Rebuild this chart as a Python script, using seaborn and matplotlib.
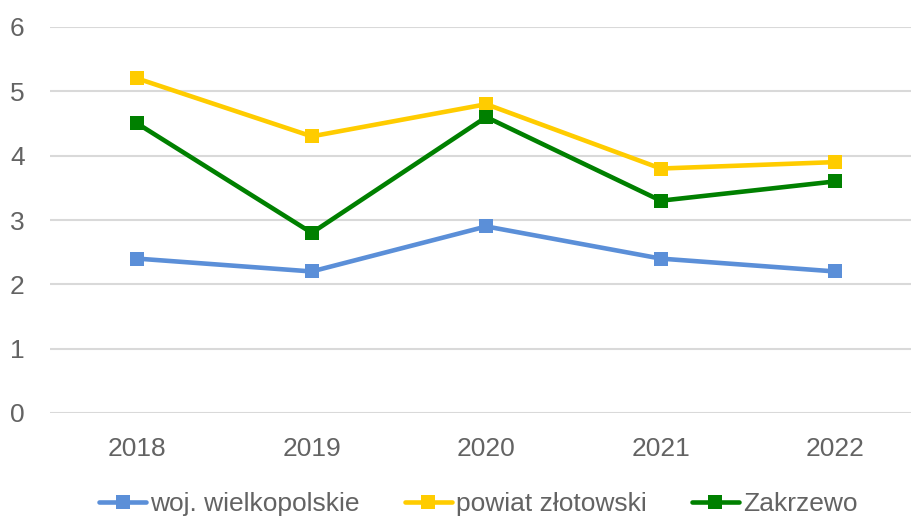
import pandas as pd
import numpy as np
import seaborn as sns
import matplotlib.pyplot as plt

years = ["2018", "2019", "2020", "2021", "2022"]
series = ["woj. wielkopolskie", "powiat złotowski", "Zakrzewo"]
woj = [2.4, 2.2, 2.9, 2.4, 2.2]
powiat = [5.2, 4.3, 4.8, 3.8, 3.9]
zakrzewo = [4.5, 2.8, 4.6, 3.3, 3.6]
colors = ["#5B8FD8", "#FFCC00", "#008000"]

d = pd.DataFrame({
    "rok": years * 3,
    "wartosc": woj + powiat + zakrzewo,
    "seria": [s for s in series for _ in years],
})

sns.set_style("white")
plt.rcParams['font.family'] = ['Liberation Sans', 'DejaVu Sans']
txt = "#636363"

fig = plt.figure(figsize=(9.11, 5.17), dpi=100)
ax = fig.add_axes([50 / 911, 104 / 517, 1 - 50 / 911, 386 / 517])

sns.lineplot(data=d, x="rok", y="wartosc", hue="seria", style="seria",
             palette=colors, markers=["s", "s", "s"], dashes=False,
             linewidth=3.3, markersize=10, markeredgewidth=0, ax=ax, legend=False)

ax.set_xlim(-0.5, 4.434)
ax.set_ylim(0, 6)
ax.set_yticks(range(7))
ax.grid(axis="y", color="#d9d9d9", linewidth=1.5)
ax.set_axisbelow(True)
sns.despine(ax=ax, left=True, bottom=True)
ax.tick_params(length=0, labelsize=19, colors=txt)
ax.tick_params(axis="x", pad=17.5)
ax.tick_params(axis="y", pad=0)
for lab in ax.get_yticklabels():
    lab.set_horizontalalignment("left")
    lab.set_x(-40 / 861)
ax.set_xlabel("")
ax.set_ylabel("")

handles = [plt.Line2D([], [], color=c, lw=3.3, marker="s", markersize=10, markeredgewidth=0)
           for c in colors]
leg = fig.legend(handles, series, loc="center", bbox_to_anchor=(0.525, 13 / 517), ncol=3,
                 frameon=False, fontsize=19, handlelength=1.8, handletextpad=0.15,
                 columnspacing=1.7)
for t in leg.get_texts():
    t.set_color(txt)

plt.savefig("out.png", dpi=100)
